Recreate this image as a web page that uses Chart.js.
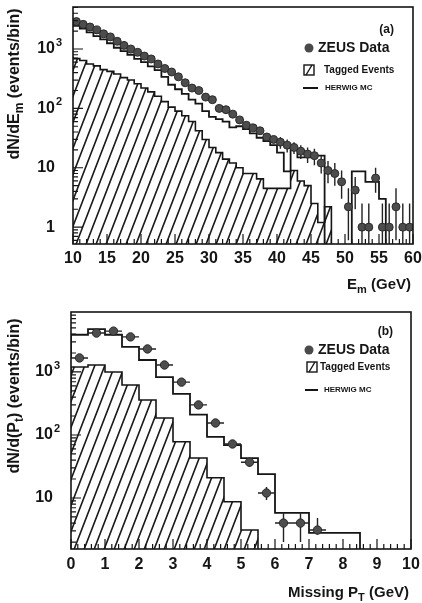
<!DOCTYPE html>
<html>
<head>
<meta charset="utf-8">
<script src="https://cdn.jsdelivr.net/npm/chart.js@4.4.0/dist/chart.umd.min.js"></script>
<style>
  html, body { margin: 0; padding: 0; background: #fff; }
  #wrap { position: relative; width: 422px; height: 603px; }
  canvas { position: absolute; left: 0; }
  #chart-a { top: 0; }
  #chart-b { top: 300px; }
</style>
</head>
<body>
<div id="wrap">
  <canvas id="chart-a" width="422" height="300"></canvas>
  <canvas id="chart-b" width="422" height="303"></canvas>
</div>
<script>
// ---- panel (a): E_m spectrum, 1 GeV bins (left edges) ----
const emBins = [10, 11, 12, 13, 14, 15, 16, 17, 18, 19,
                20, 21, 22, 23, 24, 25, 26, 27, 28, 29,
                30, 31, 32, 33, 34, 35, 36, 37, 38, 39,
                40, 41, 42, 43, 44, 45, 46, 47, 48, 49,
                50, 51, 52, 53, 54, 55, 56, 57, 58, 59];
const emZeus = [2900, 2600, 2350, 2100, 1800, 1600, 1350, 1150, 1000, 880,
                760, 680, 560, 470, 410, 340, 270, 220, 200, 155,
                140, 100, 95, 80, 64, 52, 47, 42, 33, 30,
                27, 24, 22, 19, 17, 16, 12, 9, 8, 5.8,
                2.2, 4.2, 1, 1, 6.7, 1, 1, 2.2, 1, 1];
const emTagged = [750, 690, 640, 560, 520, 450, 420, 380, 330, 300,
                  260, 220, 190, 160, 130, 105, 90, 75, 60, 42,
                  30, 22, 18, 14, 12, 10, 8, 8, 6.5, 4.5,
                  4.5, 4.5, 4.5, 9, 6, 5, 2.5, 1.2, 2.2, 0,
                  0, 0, 0, 0, 0, 0, 0, 0, 0, 0];
const emHerwig = [2750, 2450, 2200, 1900, 1650, 1450, 1250, 1050, 920, 800,
                  680, 600, 510, 440, 340, 250, 210, 175, 140, 120,
                  90, 72, 66, 60, 48, 50, 45, 38, 32, 28,
                  24, 18, 8.7, 20, 15, 15, 16, 16, 0, 0,
                  0, 0, 8.7, 8.7, 5.8, 5.8, 3.0, 0, 0, 0];
// visible vertical error bars (tail only)
const emErrBins = [40, 41, 42, 43, 44, 45, 46, 47, 48, 49, 50, 51, 52, 53, 54, 55, 56, 57, 58, 59];
const emErrLo = [21, 18, 17, 14, 12, 11, 8, 5.5, 5, 3, 0.6, 2, 0, 0, 3.8, 0, 0, 0.6, 0, 0];
const emErrHi = [33, 30, 27, 24, 22, 21, 16, 13, 12, 9, 4.5, 7, 2.5, 2.5, 10, 2.5, 2.5, 4.5, 2.5, 2.5];

// ---- panel (b): missing Pt, 0.5 GeV bins (left edges) ----
const ptBins = [0, 0.5, 1, 1.5, 2, 2.5, 3, 3.5, 4, 4.5,
                5, 5.5, 6, 6.5, 7, 7.5, 8, 8.5, 9, 9.5];
const ptZeus = [1670, 4150, 4450, 3600, 2320, 1290, 690, 300, 155, 72,
                37, 12, 4, 4, 3.1, null, null, null, null, null];
const ptTagged = [465, 1200, 1290, 1000, 620, 360, 186, 78, 43, 21,
                  8.7, 3.1, 0, 0, 0, 0, 0, 0, 0, 0];
const ptHerwig = [1670, 3900, 4800, 3900, 2500, 1550, 830, 450, 210, 93,
                  69, 43, 24, 5.8, 5.8, 2.8, 2.8, 2.8, 0, 0];
const ptErrBins = [5, 5.5, 6, 6.5, 7];
const ptErrLo = [31, 9.3, 2.0, 2.0, 2.6];
const ptErrHi = [43, 15, 6, 6, 4.8];

const FONT = '"Liberation Sans", Arial, sans-serif';
const INK = '#151515';
const FLOOR = 1e-3; // empty bins sit below the axis

function hatchPattern() {
  const c = document.createElement('canvas');
  c.width = 10; c.height = 26;
  const g = c.getContext('2d');
  g.strokeStyle = '#1a1a1a';
  g.lineWidth = 1.6;
  g.beginPath();
  for (const dx of [-10, 0, 10]) {
    g.moveTo(dx - 1, 28.6);
    g.lineTo(dx + 11, -2.6);
  }
  g.stroke();
  return g.createPattern(c, 'repeat');
}

function histPoints(bins, width, vals) {
  const pts = bins.map((b, i) => ({ x: b, y: vals[i] > 0 ? vals[i] : FLOOR }));
  pts.push({ x: bins[bins.length - 1] + width, y: pts[pts.length - 1].y });
  return pts;
}

function dataPoints(bins, width, vals) {
  return bins.map((b, i) => ({ x: b + width / 2, y: vals[i] })).filter(p => p.y != null);
}

function drawRich(ctx, parts, x, y, size, align) {
  const big = `bold ${size}px ${FONT}`;
  const small = `bold ${Math.round(size * 0.72)}px ${FONT}`;
  let w = 0;
  parts.forEach(([t, sub]) => { ctx.font = sub ? small : big; w += ctx.measureText(t).width; });
  let cx = align === 'right' ? x - w : align === 'center' ? x - w / 2 : x;
  ctx.textAlign = 'left';
  ctx.textBaseline = 'middle';
  parts.forEach(([t, sub]) => {
    ctx.font = sub ? small : big;
    ctx.fillText(t, cx, y + (sub ? size * 0.32 : 0));
    cx += ctx.measureText(t).width;
  });
}

function errorBars(pts, halfW, vBins, width, lo, hi) {
  return {
    id: 'errorBars',
    afterDatasetDraw(chart, args) {
      if (args.index !== 1) return;
      const { ctx, chartArea: a, scales: { x, y } } = chart;
      ctx.save();
      ctx.beginPath();
      ctx.rect(a.left, a.top, a.right - a.left, a.bottom - a.top);
      ctx.clip();
      ctx.strokeStyle = '#222';
      ctx.lineWidth = 1.4;
      ctx.beginPath();
      pts.forEach(p => {
        const py = y.getPixelForValue(p.y);
        ctx.moveTo(x.getPixelForValue(p.x - halfW), py);
        ctx.lineTo(x.getPixelForValue(p.x + halfW), py);
      });
      vBins.forEach((b, i) => {
        const px = x.getPixelForValue(b + width / 2);
        const bot = lo[i] > 0 ? y.getPixelForValue(lo[i]) : a.bottom;
        ctx.moveTo(px, y.getPixelForValue(hi[i]));
        ctx.lineTo(px, bot);
      });
      ctx.stroke();
      ctx.restore();
    }
  };
}

function decor(o) {
  return {
    id: 'decor',
    afterDraw(chart) {
      const { ctx, chartArea: a, scales: { x, y } } = chart;
      ctx.save();
      ctx.strokeStyle = INK;
      ctx.fillStyle = INK;

      // inward ticks
      ctx.lineWidth = 1.2;
      ctx.beginPath();
      const n = Math.round((x.max - x.min) / o.xMinor);
      for (let i = 0; i <= n; i++) {
        const v = x.min + i * o.xMinor;
        const major = Math.abs(v / o.xMajor - Math.round(v / o.xMajor)) < 1e-6;
        const px = x.getPixelForValue(v);
        ctx.moveTo(px, a.bottom);
        ctx.lineTo(px, a.bottom - (major ? 10 : 5));
      }
      const d0 = Math.floor(Math.log10(y.min)), d1 = Math.ceil(Math.log10(y.max));
      for (let d = d0; d <= d1; d++) {
        for (let m = 1; m <= 9; m++) {
          const v = m * Math.pow(10, d);
          if (v < y.min || v > y.max) continue;
          const py = y.getPixelForValue(v);
          ctx.moveTo(a.left, py);
          ctx.lineTo(a.left + (m === 1 ? 10 : 5), py);
        }
      }
      ctx.stroke();

      // frame
      ctx.lineWidth = 1.6;
      ctx.strokeRect(a.left, a.top, a.right - a.left, a.bottom - a.top);

      // y labels 1, 10, 10^2 ...
      for (let d = d0; d <= d1; d++) {
        const v = Math.pow(10, d);
        if (v < y.min || v > y.max) continue;
        const py = y.getPixelForValue(v);
        const rx = a.left - 18;
        ctx.font = `bold 16px ${FONT}`;
        ctx.textAlign = 'right';
        ctx.textBaseline = 'middle';
        if (d === 0) ctx.fillText('1', rx, py);
        else if (d === 1) ctx.fillText('10', rx, py);
        else {
          ctx.fillText('10', rx, py);
          ctx.font = `bold 11px ${FONT}`;
          ctx.textAlign = 'left';
          ctx.fillText(String(d), rx + 1, py - 6);
        }
      }

      // axis titles
      drawRich(ctx, o.xTitle, o.xTitlePos[0], o.xTitlePos[1], 15, 'right');
      ctx.save();
      ctx.translate(o.yTitlePos[0], o.yTitlePos[1]);
      ctx.rotate(-Math.PI / 2);
      drawRich(ctx, o.yTitle, 0, 0, 16, 'center');
      ctx.restore();

      // panel tag and legend
      const L = o.legend;
      ctx.font = `bold 12px ${FONT}`;
      ctx.textAlign = 'right';
      ctx.textBaseline = 'middle';
      ctx.fillText(o.tag, L.tag[0], L.tag[1]);

      ctx.beginPath();
      ctx.arc(L.dot[0], L.dot[1], 4.5, 0, Math.PI * 2);
      ctx.fillStyle = '#4a4a4a';
      ctx.fill();
      ctx.fillStyle = INK;
      ctx.font = `bold 14px ${FONT}`;
      ctx.textAlign = 'left';
      ctx.fillText('ZEUS Data', L.dot[0] + 9, L.dot[1]);

      const [bx, by] = L.box;
      ctx.lineWidth = 1.4;
      ctx.strokeRect(bx, by, 10, 10);
      ctx.beginPath();
      ctx.moveTo(bx + 2, by + 10);
      ctx.lineTo(bx + 8, by);
      ctx.stroke();
      ctx.font = `bold 10px ${FONT}`;
      ctx.fillText('Tagged Events', L.boxText, by + 5);

      ctx.lineWidth = 2;
      ctx.beginPath();
      ctx.moveTo(L.line[0], L.line[2]);
      ctx.lineTo(L.line[1], L.line[2]);
      ctx.stroke();
      ctx.font = `bold 8px ${FONT}`;
      ctx.fillText('HERWIG MC', L.lineText, L.line[2]);
      ctx.restore();
    }
  };
}

function makeChart(id, p) {
  const zeusPts = dataPoints(p.bins, p.width, p.zeus);
  return new Chart(document.getElementById(id), {
    type: 'line',
    data: {
      datasets: [
        {
          type: 'scatter',
          label: 'ZEUS Data',
          data: zeusPts,
          pointRadius: p.dotR,
          pointBackgroundColor: '#4d4d4d',
          pointBorderColor: '#2a2a2a',
          pointBorderWidth: 1,
          showLine: false,
        },
        {
          label: 'HERWIG MC',
          data: histPoints(p.bins, p.width, p.herwig),
          stepped: 'after',
          borderColor: INK,
          borderWidth: 1.8,
          pointRadius: 0,
          fill: false,
        },
        {
          label: 'Tagged Events',
          data: histPoints(p.bins, p.width, p.tagged),
          stepped: 'after',
          borderColor: INK,
          borderWidth: 1.6,
          backgroundColor: hatchPattern(),
          pointRadius: 0,
          fill: 'start',
        },
      ],
    },
    options: {
      responsive: false,
      animation: false,
      layout: { padding: { top: p.padTop, right: p.padRight, left: 0, bottom: 0 } },
      plugins: { legend: { display: false }, tooltip: { enabled: false } },
      scales: {
        x: {
          type: 'linear',
          min: p.xMin,
          max: p.xMax,
          grid: { display: false, drawTicks: false },
          border: { display: false },
          ticks: {
            stepSize: p.xMajor,
            autoSkip: false,
            maxRotation: 0,
            padding: p.tickPad,
            color: INK,
            font: { family: FONT, size: 16, weight: 'bold' },
          },
          afterFit: s => { s.height = p.xHeight; s.paddingLeft = 0; s.paddingRight = 0; },
        },
        y: {
          type: 'logarithmic',
          min: p.yMin,
          max: p.yMax,
          grid: { display: false, drawTicks: false },
          border: { display: false },
          ticks: { display: false },
          afterFit: s => { s.width = p.yWidth; s.paddingTop = 0; s.paddingBottom = 0; },
        },
      },
    },
    plugins: [
      errorBars(zeusPts, p.width / 2, p.errBins, p.width, p.errLo, p.errHi),
      decor(p.decor),
    ],
  });
}

makeChart('chart-a', {
  bins: emBins, width: 1, zeus: emZeus, tagged: emTagged, herwig: emHerwig,
  errBins: emErrBins, errLo: emErrLo, errHi: emErrHi,
  xMin: 10, xMax: 60, xMajor: 5, yMin: 0.52, yMax: 5100,
  padTop: 7, padRight: 9, xHeight: 56, yWidth: 73, tickPad: 5, dotR: 4,
  decor: {
    xMajor: 5, xMinor: 1,
    xTitle: [['E'], ['m', 1], [' (GeV)']], xTitlePos: [411, 285],
    yTitle: [['dN/dE'], ['m', 1], [' (events/bin)']], yTitlePos: [15, 84],
    tag: '(a)',
    legend: { tag: [394, 30], dot: [309, 48], box: [304, 65], boxText: 324, line: [303, 318, 88], lineText: 325 },
  },
});

makeChart('chart-b', {
  bins: ptBins, width: 0.5, zeus: ptZeus, tagged: ptTagged, herwig: ptHerwig,
  errBins: ptErrBins, errLo: ptErrLo, errHi: ptErrHi,
  xMin: 0, xMax: 10, xMajor: 1, yMin: 1.55, yMax: 8950,
  padTop: 12, padRight: 11, xHeight: 54, yWidth: 71, tickPad: 6, dotR: 4.2,
  decor: {
    xMajor: 1, xMinor: 0.2,
    xTitle: [['Missing P'], ['T', 1], [' (GeV)']], xTitlePos: [409, 293],
    yTitle: [['dN/d(P'], ['t', 1], [') (events/bin)']], yTitlePos: [15, 96],
    tag: '(b)',
    legend: { tag: [393, 32], dot: [309, 50], box: [307, 62], boxText: 320, line: [305, 318, 90], lineText: 324 },
  },
});
</script>
</body>
</html>
